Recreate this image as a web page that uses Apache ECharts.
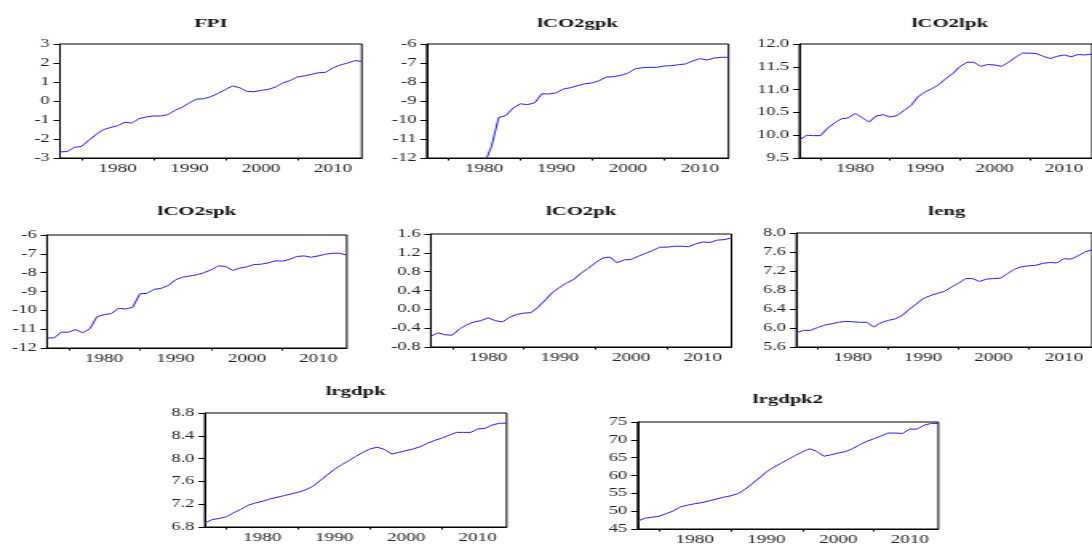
<!DOCTYPE html>
<html>
<head>
<meta charset="utf-8">
<script src="https://cdn.jsdelivr.net/npm/echarts@6/dist/echarts.min.js"></script>
<style>
  html, body { margin: 0; padding: 0; background: #fff; overflow: hidden; width: 1092px; height: 546px; }
  /* panels are laid out on a narrower canvas and widened to the page */
  #chart { width: 683px; height: 546px; transform: scaleX(1.5989); transform-origin: 0 0; }
</style>
</head>
<body>
<div id="chart"></div>
<script>
// Annual observations 1972-2014
const years = [];
for (let y = 1972; y <= 2014; y++) years.push(y);

const xLabelYears = [1980, 1990, 2000, 2010];
const xTickYears = [1975, 1985, 1995, 2005];

const FPI = [-2.68, -2.66, -2.44, -2.39, -2.07, -1.77, -1.51, -1.40, -1.30, -1.12,
             -1.16, -0.93, -0.84, -0.79, -0.79, -0.72, -0.49, -0.33, -0.10, 0.10,
             0.12, 0.23, 0.40, 0.60, 0.79, 0.70, 0.51, 0.49, 0.56, 0.61,
             0.74, 0.95, 1.07, 1.26, 1.32, 1.40, 1.49, 1.51, 1.75, 1.89,
             2.00, 2.12, 2.09];

const lCO2gpk = [null, null, null, null, null, null, null, null, -12.30, -11.40,
                 -9.87, -9.77, -9.37, -9.15, -9.19, -9.10, -8.62, -8.63, -8.57, -8.37,
                 -8.30, -8.19, -8.09, -8.05, -7.93, -7.74, -7.72, -7.65, -7.53, -7.30,
                 -7.25, -7.23, -7.23, -7.16, -7.14, -7.09, -7.05, -6.89, -6.77, -6.84,
                 -6.74, -6.70, -6.70];

const lCO2lpk = [9.89, 10.00, 9.99, 9.99, 10.15, 10.27, 10.36, 10.38, 10.48, 10.38,
                 10.29, 10.42, 10.45, 10.40, 10.43, 10.54, 10.65, 10.84, 10.95, 11.02,
                 11.11, 11.24, 11.35, 11.50, 11.60, 11.60, 11.51, 11.55, 11.54, 11.51,
                 11.60, 11.71, 11.80, 11.80, 11.79, 11.73, 11.68, 11.73, 11.76, 11.72,
                 11.77, 11.76, 11.78];

const lCO2spk = [-11.47, -11.46, -11.16, -11.16, -11.02, -11.19, -10.98, -10.33, -10.23, -10.17,
                 -9.89, -9.93, -9.84, -9.12, -9.10, -8.89, -8.83, -8.68, -8.38, -8.24,
                 -8.18, -8.11, -8.00, -7.85, -7.64, -7.67, -7.88, -7.76, -7.69, -7.57,
                 -7.55, -7.48, -7.37, -7.39, -7.29, -7.14, -7.11, -7.18, -7.11, -7.02,
                 -6.97, -6.97, -7.07];

const lCO2pk = [-0.57, -0.50, -0.54, -0.55, -0.42, -0.33, -0.27, -0.24, -0.18, -0.24,
                -0.27, -0.17, -0.11, -0.08, -0.07, 0.05, 0.20, 0.36, 0.47, 0.56,
                0.64, 0.77, 0.87, 0.99, 1.09, 1.11, 0.99, 1.05, 1.06, 1.13,
                1.19, 1.25, 1.32, 1.32, 1.34, 1.34, 1.33, 1.39, 1.43, 1.42,
                1.47, 1.48, 1.52];

const leng = [5.90, 5.95, 5.95, 6.01, 6.06, 6.09, 6.12, 6.14, 6.13, 6.12,
              6.12, 6.02, 6.11, 6.16, 6.19, 6.26, 6.39, 6.50, 6.62, 6.68,
              6.73, 6.77, 6.86, 6.94, 7.04, 7.04, 6.98, 7.03, 7.04, 7.05,
              7.15, 7.24, 7.29, 7.31, 7.32, 7.36, 7.38, 7.37, 7.46, 7.45,
              7.52, 7.60, 7.65];

const lrgdpk = [6.87, 6.93, 6.95, 6.98, 7.05, 7.11, 7.18, 7.22, 7.25, 7.29,
                7.32, 7.35, 7.38, 7.41, 7.45, 7.51, 7.61, 7.71, 7.81, 7.89,
                7.96, 8.04, 8.11, 8.17, 8.20, 8.16, 8.08, 8.11, 8.14, 8.17,
                8.21, 8.27, 8.32, 8.36, 8.41, 8.46, 8.46, 8.46, 8.52, 8.53,
                8.59, 8.62, 8.62];

const lrgdpk2 = [47.2, 48.0, 48.3, 48.6, 49.3, 50.1, 51.2, 51.7, 52.1, 52.4,
                 52.9, 53.4, 53.9, 54.3, 54.9, 56.1, 57.7, 59.3, 61.0, 62.3,
                 63.4, 64.5, 65.6, 66.6, 67.5, 66.8, 65.4, 65.8, 66.3, 66.7,
                 67.5, 68.6, 69.6, 70.3, 71.1, 71.9, 71.9, 71.8, 73.0, 73.0,
                 74.1, 74.6, 74.6];

// Panel layout: plot box [left, top, width, height] and title baseline centre y
const panels = [
  { name: 'FPI',     values: FPI,     min: -3,  max: 3,   step: 1,   dec: 0, box: [37.5, 44, 188.75, 114],  titleY: 24 },
  { name: 'lCO2gpk', values: lCO2gpk, min: -12, max: -6,  step: 1,   dec: 0, box: [266.9, 44, 188.75, 114], titleY: 24 },
  { name: 'lCO2lpk', values: lCO2lpk, min: 9.5, max: 12,  step: 0.5, dec: 1, box: [500, 44, 188.1, 114],    titleY: 24 },
  { name: 'lCO2spk', values: lCO2spk, min: -12, max: -6,  step: 1,   dec: 0, box: [29.4, 235, 187.5, 113],  titleY: 212 },
  { name: 'lCO2pk',  values: lCO2pk,  min: -0.8, max: 1.6, step: 0.4, dec: 1, box: [269.4, 234, 188.1, 113], titleY: 212 },
  { name: 'leng',    values: leng,    min: 5.6, max: 8.0, step: 0.4, dec: 1, box: [498.1, 233, 188.1, 114], titleY: 212 },
  { name: 'lrgdpk',  values: lrgdpk,  min: 6.8, max: 8.8, step: 0.4, dec: 1, box: [128.1, 413, 188.75, 114], titleY: 391.5 },
  { name: 'lrgdpk2', values: lrgdpk2, min: 45,  max: 75,  step: 5,   dec: 0, box: [398.75, 422, 188.1, 113], titleY: 400 }
];

const serif = '"Liberation Serif", "Times New Roman", serif';
const lineBlue = '#1f1fff';

const grid = [], xAxis = [], yAxis = [], series = [], graphic = [];

panels.forEach((p, i) => {
  const [l, t, w, h] = p.box;
  grid.push({
    left: l, top: t, width: w, height: h,
    show: true, borderColor: '#000', borderWidth: 1, backgroundColor: 'transparent'
  });
  xAxis.push({
    gridIndex: i, type: 'value', min: 1972, max: 2014,
    axisLine: { show: true, onZero: false, lineStyle: { color: '#000', width: 1 } },
    axisTick: { show: true, inside: false, length: 2.5, customValues: xTickYears, lineStyle: { color: '#000', width: 1 } },
    axisLabel: { show: true, customValues: xLabelYears, margin: 5, color: '#222',
                 fontFamily: serif, fontSize: 12, formatter: v => String(v) },
    splitLine: { show: false }
  });
  yAxis.push({
    gridIndex: i, type: 'value', min: p.min, max: p.max, interval: p.step,
    axisLine: { show: true, onZero: false, lineStyle: { color: '#000', width: 1 } },
    axisTick: { show: true, inside: false, length: 4, lineStyle: { color: '#000', width: 1 } },
    axisLabel: { show: true, margin: 6.5, color: '#222', fontFamily: serif, fontSize: 11.5,
                 formatter: v => Number(v).toFixed(p.dec) },
    splitLine: { show: false }
  });
  series.push({
    type: 'line', xAxisIndex: i, yAxisIndex: i, name: p.name,
    data: years.map((yr, k) => [yr, p.values[k]]),
    showSymbol: false, symbol: 'none', clip: true, connectNulls: false,
    lineStyle: { color: lineBlue, width: 1 },
    emphasis: { disabled: true }, silent: true, animation: false
  });
  graphic.push({
    type: 'text', x: l + w / 2, y: p.titleY,
    style: { text: p.name, textAlign: 'center', textVerticalAlign: 'middle',
             font: 'bold 13px ' + serif, fill: '#111' }
  });
});

const chart = echarts.init(document.getElementById('chart'), null, { renderer: 'canvas' });
chart.setOption({
  animation: false,
  backgroundColor: '#fff',
  grid, xAxis, yAxis, series, graphic
});
</script>
</body>
</html>
